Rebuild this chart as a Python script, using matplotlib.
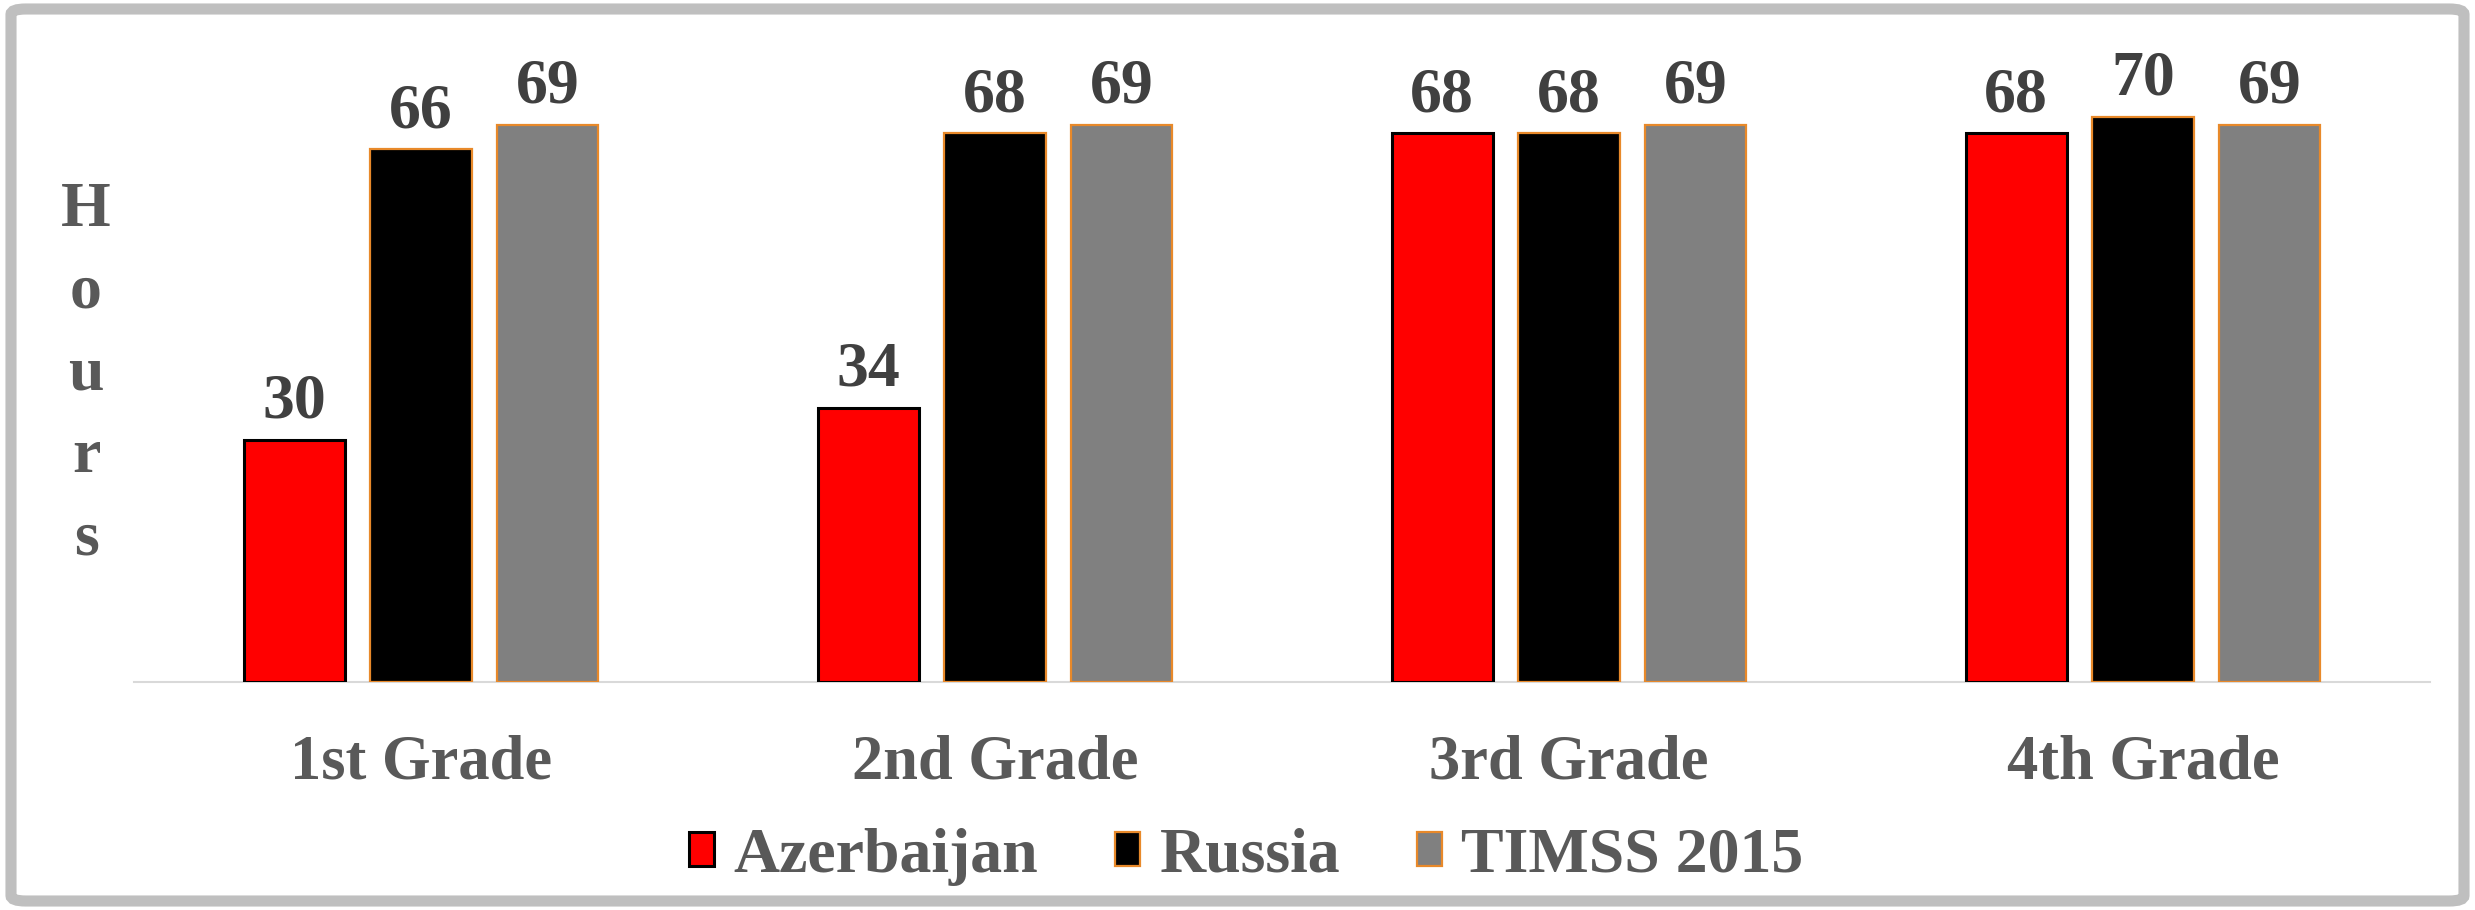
import numpy as np
import matplotlib
matplotlib.use("Agg")
import matplotlib.pyplot as plt
from matplotlib.patches import FancyBboxPatch

plt.rcParams['font.family'] = ['Liberation Serif', 'DejaVu Serif']
plt.rcParams['font.weight'] = 'bold'

# data
grades = ["1st Grade", "2nd Grade", "3rd Grade", "4th Grade"]
azerbaijan = [30, 34, 68, 68]
russia = [66, 68, 68, 70]
timss = [69, 69, 69, 69]

series = [
    ("Azerbaijan", azerbaijan, "#ff0000", "#000000", 2.2),
    ("Russia", russia, "#000000", "#e8892a", 1.6),
    ("TIMSS 2015", timss, "#808080", "#e8892a", 1.6),
]

W, H = 2475, 910
fig = plt.figure(figsize=(W / 100, H / 100), dpi=100)
ax = fig.add_axes([134 / W, 1 - 682 / H, 2296 / W, 645.6 / H])

x = np.arange(len(grades))
width = 0.176
step = 0.221

for i, (name, vals, fc, ec, lw) in enumerate(series):
    pos = x + (i - 1) * step
    bars = ax.bar(pos, vals, width, color=fc, edgecolor=ec, linewidth=lw, label=name, zorder=3)
    for b, v in zip(bars, vals):
        ax.annotate(str(v), (b.get_x() + b.get_width() / 2, v),
                    xytext=(0, 16), textcoords="offset points",
                    ha="center", va="baseline", fontsize=46,
                    color="#404040", fontweight="bold")

ax.set_xlim(-0.5, 3.5)
ax.set_ylim(0, 80)
ax.set_xticks(x)
ax.set_xticklabels(grades, fontsize=45, color="#595959", fontweight="bold")
ax.tick_params(axis="x", length=0, pad=38)
ax.set_yticks([])
for s in ["top", "right", "left"]:
    ax.spines[s].set_visible(False)
ax.spines["bottom"].set_color("#d9d9d9")
ax.spines["bottom"].set_linewidth(1.5)

# vertical stacked y label
fig.text(86 / W, 1 - 375 / H, "H\no\nu\nr\ns", ha="center", va="center",
         fontsize=46, color="#595959", fontweight="bold", linespacing=1.55)

leg = fig.legend(loc="center", bbox_to_anchor=(0.5035, 1 - 857 / H), ncol=3,
                 frameon=False, fontsize=46, handlelength=0.4, handleheight=0.45,
                 handletextpad=0.3, columnspacing=1.2)
for t in leg.get_texts():
    t.set_color("#595959")

# rounded outer border
border = FancyBboxPatch((11 / W, 9 / H), (W - 22) / W, (H - 18) / H,
                        boxstyle="round,pad=0,rounding_size=0.006",
                        transform=fig.transFigure, fill=False,
                        edgecolor="#bfbfbf", linewidth=8)
fig.patches.append(border)

fig.savefig("out.png", dpi=100)
